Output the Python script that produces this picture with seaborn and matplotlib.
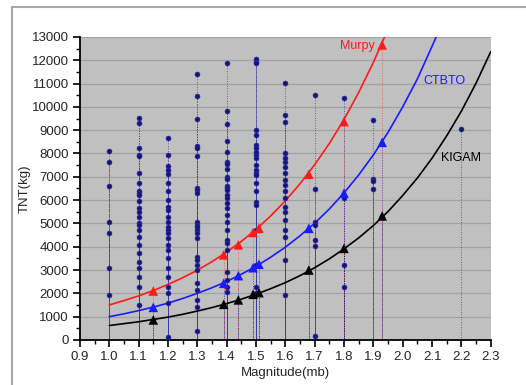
import numpy as np
import pandas as pd
import seaborn as sns
import matplotlib.pyplot as plt
from matplotlib.ticker import MultipleLocator, FormatStrFormatter
from matplotlib.lines import Line2D

# --- dati ---
# colonne di punti osservati (magnitudo -> TNT kg)
obs_10 = [8110, 7640, 6610, 5080, 4610, 3100, 1930]
obs_11 = [9530, 9310, 8240, 7940, 7900, 7170, 6720, 6370, 6300, 6220, 5980, 5650, 5510,
          5290, 5010, 4940, 4720, 4430, 4080, 3720, 3360, 3080, 2720, 2290, 1500]
obs_12 = [8680, 7940, 7470, 7300, 7120, 6720, 6370, 6010, 5720, 5580, 5290, 5080, 4860,
          4720, 4580, 4360, 4080, 3860, 3510, 3080, 2720, 2290, 2000, 1570, 140]
obs_13 = [11400, 10470, 9470, 8340, 8230, 7900, 6510, 6440, 6300, 5080, 4940, 4840, 4720,
          4580, 4360, 3580, 3430, 3220, 3000, 2430, 2150, 1720, 1430, 400]
obs_14 = [11870, 9840, 9270, 8550, 8060, 7650, 7540, 7330, 7010, 6910, 6620, 6510, 6440,
          6220, 6080, 5860, 5650, 5360, 5080, 4720, 4290, 4150, 3860, 2930, 2580, 2290, 2070]
obs_15 = [12040, 11940, 11870, 9010, 8800, 8370, 8230, 8080, 7940, 7800, 7510, 7300, 7150,
          7080, 6720, 6370, 5940, 5790, 4720, 3220, 2290, 2000]
obs_16 = [11040, 9660, 9370, 8010, 7800, 7650, 7440, 7150, 6870, 6650, 6370, 6080, 5720,
          5510, 5150, 4720, 4430, 3430, 1930]
obs_17 = [10510, 6470, 5080, 4940, 4290, 4030, 180]
obs_18 = [10400, 6080, 3220, 2290]
obs_19 = [9420, 6900, 6820, 6470]
obs_22 = [9040]
obs_mag = [1.0, 1.1, 1.2, 1.3, 1.4, 1.5, 1.6, 1.7, 1.8, 1.9, 2.2]
obs_cols = [obs_10, obs_11, obs_12, obs_13, obs_14, obs_15, obs_16, obs_17, obs_18, obs_19, obs_22]

# triangoli dei tre modelli
tri_mag = [1.15, 1.39, 1.44, 1.49, 1.51, 1.68, 1.80, 1.93]
tri_murpy = [2100, 3650, 4080, 4610, 4790, 7110, 9370, 12660]
tri_ctbto = [1400, 2430, 2760, 3100, 3250, 4790, 6300, 8480]
tri_kigam = [860, 1530, 1720, 1960, 2030, 3000, 3930, 5320]

# curve (letture lungo le linee)
curve_mag_murpy = [1.0, 1.05, 1.1, 1.15, 1.2, 1.25, 1.3, 1.35, 1.4, 1.45, 1.5, 1.55, 1.6,
                   1.65, 1.7, 1.75, 1.8, 1.85, 1.9, 1.938]
curve_murpy = [1500, 1690, 1890, 2120, 2380, 2670, 2990, 3360, 3770, 4230, 4740, 5320, 5970,
               6700, 7520, 8430, 9460, 10620, 11910, 13000]
curve_mag_ctbto = [1.0, 1.05, 1.1, 1.15, 1.2, 1.25, 1.3, 1.35, 1.4, 1.45, 1.5, 1.55, 1.6,
                   1.65, 1.7, 1.75, 1.8, 1.85, 1.9, 1.95, 2.0, 2.05, 2.1, 2.114]
curve_ctbto = [1000, 1120, 1260, 1410, 1580, 1780, 2000, 2240, 2510, 2820, 3160, 3550, 3980,
               4470, 5010, 5620, 6310, 7080, 7940, 8910, 10000, 11200, 12600, 13000]
curve_mag_kigam = [1.0, 1.05, 1.1, 1.15, 1.2, 1.25, 1.3, 1.35, 1.4, 1.45, 1.5, 1.55, 1.6,
                   1.65, 1.7, 1.75, 1.8, 1.85, 1.9, 1.95, 2.0, 2.05, 2.1, 2.15, 2.2, 2.25, 2.3]
curve_kigam = [620, 700, 780, 880, 980, 1100, 1240, 1390, 1560, 1750, 1960, 2200, 2460,
               2760, 3100, 3480, 3910, 4380, 4910, 5510, 6200, 6950, 7800, 8760, 9820, 11020, 12370]

# --- dataframe ---
obs = pd.DataFrame({
    'Magnitude': np.concatenate([[m] * len(c) for m, c in zip(obs_mag, obs_cols)]),
    'TNT': np.concatenate(obs_cols),
})
tri = pd.DataFrame({
    'Magnitude': tri_mag * 3,
    'TNT': tri_murpy + tri_ctbto + tri_kigam,
    'Model': ['Murpy'] * 8 + ['CTBTO'] * 8 + ['KIGAM'] * 8,
})
curves = pd.concat([
    pd.DataFrame({'Magnitude': curve_mag_murpy, 'TNT': curve_murpy, 'Model': 'Murpy'}),
    pd.DataFrame({'Magnitude': curve_mag_ctbto, 'TNT': curve_ctbto, 'Model': 'CTBTO'}),
    pd.DataFrame({'Magnitude': curve_mag_kigam, 'TNT': curve_kigam, 'Model': 'KIGAM'}),
])
colori = {'Murpy': '#ff1a1a', 'CTBTO': '#1a1aff', 'KIGAM': '#000000'}

sns.set_theme(style="white")
plt.rcParams['font.family'] = ['Liberation Sans', 'DejaVu Sans']

fig = plt.figure(figsize=(5.26, 3.85), dpi=100)
ax = fig.add_axes([0.152, 0.117, 0.781, 0.787])
ax.set_facecolor('#c0c0c0')

# cornice della pagina
fig.add_artist(Line2D([12 / 526, 12 / 526], [0, 1 - 7 / 385], transform=fig.transFigure,
                      color='#a8a8a8', lw=1.5))
fig.add_artist(Line2D([12 / 526, 1], [1 - 7 / 385, 1 - 7 / 385], transform=fig.transFigure,
                      color='#a8a8a8', lw=1.5))

ax.yaxis.grid(True, color='#a3a3a3', lw=0.9)
ax.set_axisbelow(True)

# drop lines dei punti osservati (dal punto verso lo zero)
for _, r in obs.iterrows():
    ax.plot([r['Magnitude'], r['Magnitude']], [r['TNT'], 0], ls=(0, (1, 2)),
            color='#3a3a9c', lw=0.6, zorder=1.5)
for _, r in tri.iterrows():
    ax.plot([r['Magnitude'], r['Magnitude']], [r['TNT'], 0], ls=(0, (1, 2)),
            color=colori[r['Model']], lw=0.6, zorder=1.5, alpha=0.7)

sns.lineplot(data=curves, x='Magnitude', y='TNT', hue='Model', palette=colori,
             sort=False, estimator=None, lw=1.2, legend=False, ax=ax, zorder=3)
sns.scatterplot(data=obs, x='Magnitude', y='TNT', color='#14147a', s=13,
                edgecolor='#3030b0', linewidth=0.4, ax=ax, zorder=4)
sns.scatterplot(data=tri, x='Magnitude', y='TNT', hue='Model', palette=colori,
                marker='^', s=48, edgecolor='none', legend=False, ax=ax, zorder=5)

ax.text(1.905, 12600, 'Murpy', color='#ff1a1a', fontsize=9, ha='right', va='center')
ax.text(2.07, 11100, 'CTBTO', color='#1a1aff', fontsize=9, ha='left', va='center')
ax.text(2.13, 7800, 'KIGAM', color='black', fontsize=9, ha='left', va='center')

ax.set_xlim(0.9, 2.3)
ax.set_ylim(0, 13000)
ax.xaxis.set_major_locator(MultipleLocator(0.1))
ax.xaxis.set_minor_locator(MultipleLocator(0.05))
ax.xaxis.set_major_formatter(FormatStrFormatter('%.1f'))
ax.yaxis.set_major_locator(MultipleLocator(1000))
ax.yaxis.set_minor_locator(MultipleLocator(500))
ax.tick_params(axis='both', which='major', direction='out', length=5, width=1.2,
               labelsize=9.5, pad=3, color='black', bottom=True, left=True)
ax.tick_params(axis='both', which='minor', direction='out', length=3, width=1,
               color='black', bottom=True, left=True)

for s in ['top', 'right']:
    ax.spines[s].set_visible(False)
for s in ['left', 'bottom']:
    ax.spines[s].set_color('black')
    ax.spines[s].set_linewidth(1.3)

ax.set_xlabel('Magnitude(mb)', fontsize=9.5, labelpad=3)
ax.set_ylabel('TNT(kg)', fontsize=9.5, labelpad=1)

fig.savefig('out.png', dpi=100)
